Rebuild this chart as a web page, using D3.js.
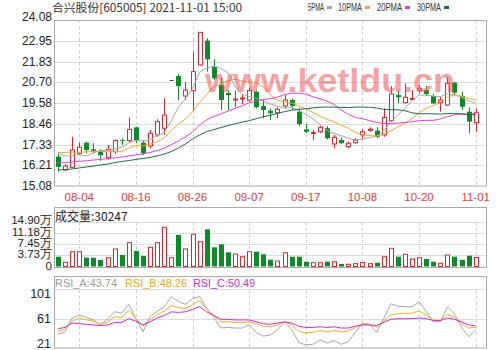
<!DOCTYPE html>
<html>
<head>
<meta charset="utf-8">
<script src="https://cdn.jsdelivr.net/npm/d3@7"></script>
<style>
  body { margin: 0; background: #fff; }
  svg { display: block; }
</style>
</head>
<body>
<div id="chart"></div>
<script>
// trading days 2021-07-30 .. 2021-11-01
const dates = ["07-30","08-02","08-03","08-04","08-05","08-06","08-09","08-10","08-11","08-12",
  "08-13","08-16","08-17","08-18","08-19","08-20","08-23","08-24","08-25","08-26",
  "08-27","08-30","08-31","09-01","09-02","09-03","09-06","09-07","09-08","09-09",
  "09-10","09-13","09-14","09-15","09-16","09-17","09-22","09-23","09-24","09-27",
  "09-28","09-29","09-30","10-08","10-11","10-12","10-13","10-14","10-15","10-18",
  "10-19","10-20","10-21","10-22","10-25","10-26","10-27","10-28","10-29","11-01"];

const openP = [16.67,15.95,16.09,16.85,17.43,17.07,16.98,16.61,16.94,17.57,
  17.54,18.26,17.43,17.25,17.85,18.21,20.83,21.04,19.96,20.25,
  21.64,22.96,21.55,20.56,20.12,19.74,19.80,19.74,20.19,19.42,
  19.16,19.05,19.42,19.74,19.11,18.15,17.94,18.02,18.21,17.36,
  17.57,17.21,17.43,17.85,18.12,18.08,17.85,18.62,20.01,19.60,
  19.80,20.25,20.28,19.96,19.60,19.47,20.68,19.96,19.11,18.51];
const highP = [16.94,16.27,17.75,17.43,17.48,17.40,17.07,17.30,17.61,17.67,
  18.80,18.29,17.57,18.12,18.70,19.83,20.83,21.15,20.73,22.36,
  23.41,23.09,21.95,20.97,20.28,20.25,20.07,20.43,20.28,19.74,
  19.29,19.35,20.01,19.83,19.29,18.44,18.12,18.33,18.33,17.85,
  17.72,17.48,17.67,18.15,18.26,18.26,19.29,20.50,20.25,20.65,
  20.28,20.56,20.50,20.07,19.92,20.97,20.73,20.19,19.35,19.29];
const lowP = [15.85,15.89,16.04,16.74,16.85,16.85,16.44,16.49,16.81,17.30,
  17.43,17.40,16.76,17.12,17.75,17.85,20.83,19.74,19.74,19.20,
  21.60,21.28,20.83,19.20,19.20,19.35,19.53,19.65,19.29,18.75,
  18.66,18.75,19.29,19.20,18.33,17.94,17.57,17.94,17.61,17.12,
  17.36,17.12,17.36,17.61,18.02,17.67,17.75,18.57,19.56,19.56,
  19.74,20.11,19.96,19.53,19.11,19.42,20.01,19.20,17.94,18.02];
const closeP = [16.12,16.16,17.03,17.18,17.03,16.99,16.76,17.07,17.54,17.52,
  18.15,17.54,16.85,17.94,18.57,18.93,20.83,20.50,20.28,21.28,
  23.41,21.95,20.92,19.74,20.01,19.80,19.85,20.25,19.35,19.20,
  19.02,19.24,19.74,19.42,18.44,18.02,17.98,18.26,17.67,17.72,
  17.40,17.40,17.57,18.02,18.15,17.75,18.80,20.07,19.89,19.89,
  19.83,20.38,20.07,19.56,19.74,20.65,20.14,19.38,18.57,19.05];

const ma5 = [16.85,16.70,16.72,16.78,16.70,16.88,17.00,17.01,17.08,17.18,
  17.41,17.56,17.52,17.60,17.81,17.97,18.62,19.35,19.82,20.36,
  21.26,21.48,21.57,21.46,21.21,20.48,20.06,19.93,19.85,19.69,
  19.53,19.41,19.31,19.32,19.17,18.97,18.72,18.42,18.07,17.93,
  17.81,17.69,17.55,17.62,17.71,17.78,18.06,18.56,18.93,19.28,
  19.70,20.01,20.01,19.95,19.92,20.08,20.03,19.89,19.70,19.56];
const ma10 = [16.90,16.90,16.91,16.92,16.93,16.95,16.95,16.96,16.95,16.94,
  17.14,17.28,17.26,17.34,17.49,17.69,18.09,18.44,18.71,19.09,
  19.61,20.05,20.46,20.64,20.79,20.87,20.77,20.75,20.66,20.45,
  20.01,19.74,19.62,19.59,19.43,19.25,19.07,18.87,18.70,18.55,
  18.39,18.21,17.99,17.85,17.82,17.79,17.87,18.06,18.28,18.49,
  18.74,19.04,19.29,19.44,19.60,19.89,20.02,19.95,19.82,19.74];
const ma20 = [16.33,16.35,16.38,16.42,16.45,16.49,16.52,16.56,16.60,16.65,
  16.71,16.77,16.82,16.90,17.00,17.12,17.32,17.52,17.74,18.01,
  18.38,18.67,18.86,18.99,19.14,19.28,19.43,19.59,19.68,19.77,
  19.81,19.90,20.04,20.11,20.11,20.06,19.92,19.81,19.68,19.50,
  19.20,18.97,18.80,18.72,18.63,18.52,18.47,18.46,18.49,18.52,
  18.56,18.62,18.64,18.64,18.71,18.84,18.95,19.00,18.95,19.02];
const ma30 = [15.95,15.97,16.00,16.06,16.11,16.16,16.22,16.27,16.35,16.41,
  16.46,16.52,16.57,16.63,16.71,16.81,16.95,17.14,17.36,17.63,
  17.85,18.03,18.14,18.25,18.35,18.45,18.54,18.62,18.73,18.83,
  18.92,19.02,19.11,19.19,19.24,19.27,19.31,19.35,19.36,19.36,
  19.34,19.33,19.36,19.36,19.35,19.31,19.24,19.22,19.21,19.16,
  19.05,18.99,19.00,18.99,18.98,19.01,19.02,18.98,18.96,18.95];

// volume, in 万 shares
const volume = [3.28,1.41,4.96,4.96,2.95,2.95,2.18,2.95,5.86,3.85,
  7.97,5.19,3.52,6.43,7.97,13.12,2.95,10.55,5.86,10.78,
  8.30,12.45,6.43,7.43,4.75,4.19,3.28,4.96,4.96,4.08,
  2.28,1.84,4.62,3.28,3.28,1.61,1.27,1.27,1.61,1.61,
  0.85,0.75,0.95,1.35,0.95,1.25,3.28,6.09,3.28,4.08,
  2.51,2.95,2.51,1.61,1.07,3.85,3.28,2.18,3.62,3.02];

const rsiA = [37,41,63,68,64,60,52,62,73,71,
  85,62,41,65,74,81,97,90,85,94,
  97.5,79,64,47,48,47,47,52,40,34,
  36,44,57,45,24,20,21,28,23,27,
  21,25,40,54,53,40,62,86,82,81,
  81,89,74,57,57,81,70,48,33,43.74];
const rsiB = [42,45,58,63,60,58,53,57,65,64,
  76,62,50,60,68,74,83,80,78,84,
  91,77,67,57,57,56,56,57,54,50,
  49,52,57,52,42,39,40,43,41,43,
  41,42,48,54,53,48,58,68,70,70,
  71,74,68,60,59,69,64,55,47,48.26];
const rsiC = [46,48,55,54,53,52,51,52,56,56,
  62,58,52,57,63,67,73,72,73,77,
  81,73,67,61,61,60,60,60,57,54,
  53,55,57,55,50,48,48,49,48,49,
  47,47,50,52,52,51,56,61,62,62,
  62,63,62,59,59,63,61,57,52,50.49];

const priceTicks = [15.08,16.21,17.33,18.46,19.58,20.70,21.83,22.95,24.08];
const volTicks = [0,3.73,7.45,11.18,14.90];
const rsiTicks = [21,61,101];
const dateTicks = ["08-04","08-16","08-26","09-07","09-17","10-08","10-20","11-01"];

const W = 499, H = 350;
const L = 54, R = 486;
const RED = "#e0242b", GREEN = "#108a28";
const maColors = ["#a6a6a6", "#f0a630", "#e23ee2", "#1f6b45"];
const GRID = "#dcdcdc", FRAME = "#a9a9a9";
const NUM_FONT = "'Liberation Sans', Arial, sans-serif";
const CJK_FONT = "'Noto Sans CJK SC', sans-serif";

const svg = d3.select("#chart").append("svg")
  .attr("width", W).attr("height", H)
  .style("background", "#fff");

const x = d3.scalePoint().domain(dates).range([58, 475.7]);
const y = d3.scaleLinear().domain([15.08, 24.08]).range([186, 20]);
const yVol = d3.scaleLinear().domain([0, 14.90]).range([266.5, 222]);
const yRsi = d3.scaleLinear().domain([21, 101]).range([344.3, 294.3]);

const px = (v) => Math.round(v) + 0.5;

// ---------- grids ----------
function vGrid(y0, y1) {
  svg.append("g").selectAll("line").data(dateTicks).join("line")
    .attr("x1", (d) => px(x(d))).attr("x2", (d) => px(x(d)))
    .attr("y1", y0).attr("y2", y1)
    .attr("stroke", "#cfcfcf").attr("stroke-dasharray", "3,3");
}

svg.append("g").selectAll("line").data(priceTicks.slice(1, -1)).join("line")
  .attr("x1", L).attr("x2", R)
  .attr("y1", (d) => px(y(d))).attr("y2", (d) => px(y(d)))
  .attr("stroke", GRID);
vGrid(20, 186);

svg.append("g").selectAll("line").data(volTicks.slice(1)).join("line")
  .attr("x1", L).attr("x2", R)
  .attr("y1", (d) => px(yVol(d))).attr("y2", (d) => px(yVol(d)))
  .attr("stroke", GRID);
vGrid(222, 267);

svg.append("line")
  .attr("x1", L).attr("x2", R)
  .attr("y1", px(yRsi(61))).attr("y2", px(yRsi(61)))
  .attr("stroke", GRID);
svg.append("line")
  .attr("x1", L).attr("x2", R).attr("y1", 289.5).attr("y2", 289.5)
  .attr("stroke", GRID);
vGrid(290, 348);

// ---------- frames ----------
[[20.5, 165.5], [207.5, 60], [276.5, 71.5]].forEach(([top, h]) => {
  svg.append("rect")
    .attr("x", L + 0.5).attr("y", top).attr("width", R - L).attr("height", h)
    .attr("fill", "none").attr("stroke", FRAME);
});

// ---------- candles ----------
const bars = dates.map((d, i) => ({
  date: d, o: openP[i], h: highP[i], l: lowP[i], c: closeP[i], v: volume[i]
}));

const candle = svg.append("g").selectAll("g").data(bars).join("g");
candle.append("line")
  .attr("x1", (d) => px(x(d.date))).attr("x2", (d) => px(x(d.date)))
  .attr("y1", (d) => y(d.h)).attr("y2", (d) => y(d.l))
  .attr("stroke", (d) => d.h === d.l ? "#444" : (d.c >= d.o ? RED : GREEN));
candle.append("rect")
  .attr("x", (d) => Math.round(x(d.date)) - 2 + (d.c >= d.o ? 0.5 : 0))
  .attr("y", (d) => y(Math.max(d.o, d.c)))
  .attr("width", (d) => d.c >= d.o ? 4 : 5)
  .attr("height", (d) => Math.max(1, Math.abs(y(d.o) - y(d.c))))
  .attr("fill", (d) => d.h === d.l ? "#444" : (d.c >= d.o ? "#fff" : GREEN))
  .attr("stroke", (d) => d.h === d.l ? "none" : (d.c >= d.o ? RED : "none"));

// ---------- moving averages ----------
const line = d3.line().x((d, i) => x(dates[i])).y((d) => y(d));
[ma5, ma10, ma20, ma30].forEach((s, k) => {
  svg.append("path").datum(s)
    .attr("d", line).attr("fill", "none")
    .attr("stroke", maColors[k]).attr("stroke-width", 1);
});

// ---------- volume ----------
svg.append("g").selectAll("rect").data(bars).join("rect")
  .attr("x", (d) => Math.round(x(d.date)) - 2 + (d.c >= d.o ? 0.5 : 0))
  .attr("y", (d) => yVol(d.v))
  .attr("width", (d) => d.c >= d.o ? 4 : 5)
  .attr("height", (d) => yVol(0) - yVol(d.v))
  .attr("fill", (d) => d.c >= d.o ? "#fff" : GREEN)
  .attr("stroke", (d) => d.c >= d.o ? RED : "none");

// ---------- RSI ----------
const rsiLine = d3.line().x((d, i) => x(dates[i])).y((d) => yRsi(d));
[[rsiA, "#a6a6a6"], [rsiB, "#f0b020"], [rsiC, "#d42ad4"]].forEach(([s, col]) => {
  svg.append("path").datum(s)
    .attr("d", rsiLine).attr("fill", "none")
    .attr("stroke", col).attr("stroke-width", 1);
});

// ---------- axis labels ----------
svg.append("g").selectAll("text").data(priceTicks).join("text")
  .attr("x", 52).attr("y", (d) => d === 24.08 ? 17 : y(d))
  .attr("text-anchor", "end").attr("dominant-baseline", "central")
  .attr("font-family", NUM_FONT).attr("font-size", 12).attr("fill", "#222")
  .text((d) => d.toFixed(2));

svg.append("g").selectAll("text").data(dateTicks).join("text")
  .attr("x", (d) => x(d)).attr("y", 197)
  .attr("text-anchor", "middle").attr("dominant-baseline", "central")
  .attr("font-family", NUM_FONT).attr("font-size", 11.5).attr("fill", "#e03a3a")
  .text((d) => d);

const volLabelY = { 0: 265.5, 3.73: 253.5, 7.45: 242.5, 11.18: 231.5, 14.90: 219.5 };
svg.append("g").selectAll("text").data(volTicks).join("text")
  .attr("x", 52).attr("y", (d) => volLabelY[d])
  .attr("text-anchor", "end").attr("dominant-baseline", "central")
  .attr("font-family", NUM_FONT).attr("font-size", 11.5).attr("fill", "#222")
  .text((d) => d === 0 ? "0" : d.toFixed(2) + "万");

svg.append("g").selectAll("text").data(rsiTicks).join("text")
  .attr("x", 51).attr("y", (d) => yRsi(d))
  .attr("text-anchor", "end").attr("dominant-baseline", "central")
  .attr("font-family", NUM_FONT).attr("font-size", 12.5).attr("fill", "#222")
  .text((d) => d);

// ---------- headers ----------
svg.append("text")
  .attr("x", 52).attr("y", 7).attr("dominant-baseline", "central")
  .attr("font-family", CJK_FONT).attr("font-size", 11.5).attr("fill", "#333")
  .attr("textLength", 190).attr("lengthAdjust", "spacingAndGlyphs")
  .text("合兴股份[605005] 2021-11-01 15:00");

const legend = [["5PMA", 308, 16], ["10PMA", 338, 24], ["20PMA", 377, 25], ["30PMA", 417, 24]];
legend.forEach(([t, lx, len], k) => {
  svg.append("text")
    .attr("x", lx).attr("y", 7).attr("dominant-baseline", "central")
    .attr("font-family", NUM_FONT).attr("font-size", 10).attr("fill", "#333")
    .attr("textLength", len).attr("lengthAdjust", "spacingAndGlyphs")
    .text(t);
  svg.append("rect")
    .attr("x", lx + len + 3).attr("y", 6).attr("width", 5).attr("height", 3)
    .attr("fill", maColors[k]);
});

svg.append("text")
  .attr("x", 55).attr("y", 215).attr("dominant-baseline", "central")
  .attr("font-family", CJK_FONT).attr("font-size", 12).attr("fill", "#222")
  .text("成交量:" + "30247");

const rsiHeads = [["RSI_A:" + rsiA[59].toFixed(2), 55, "#9a9a9a"],
  ["RSI_B:" + rsiB[59].toFixed(2), 125, "#f0a800"],
  ["RSI_C:" + rsiC[59].toFixed(2), 193, "#d42ad4"]];
rsiHeads.forEach(([t, hx, col]) => {
  svg.append("text")
    .attr("x", hx).attr("y", 282.5).attr("dominant-baseline", "central")
    .attr("font-family", NUM_FONT).attr("font-size", 11).attr("fill", col)
    .attr("textLength", 62).attr("lengthAdjust", "spacingAndGlyphs")
    .text(t);
});

// ---------- watermark ----------
svg.append("text")
  .attr("x", 205).attr("y", 92)
  .attr("font-family", NUM_FONT).attr("font-size", 34).attr("font-weight", "bold")
  .attr("fill", "#ee5a5a").attr("opacity", 0.55)
  .attr("textLength", 250).attr("lengthAdjust", "spacingAndGlyphs")
  .text("www.ketldu.cn");
</script>
</body>
</html>
